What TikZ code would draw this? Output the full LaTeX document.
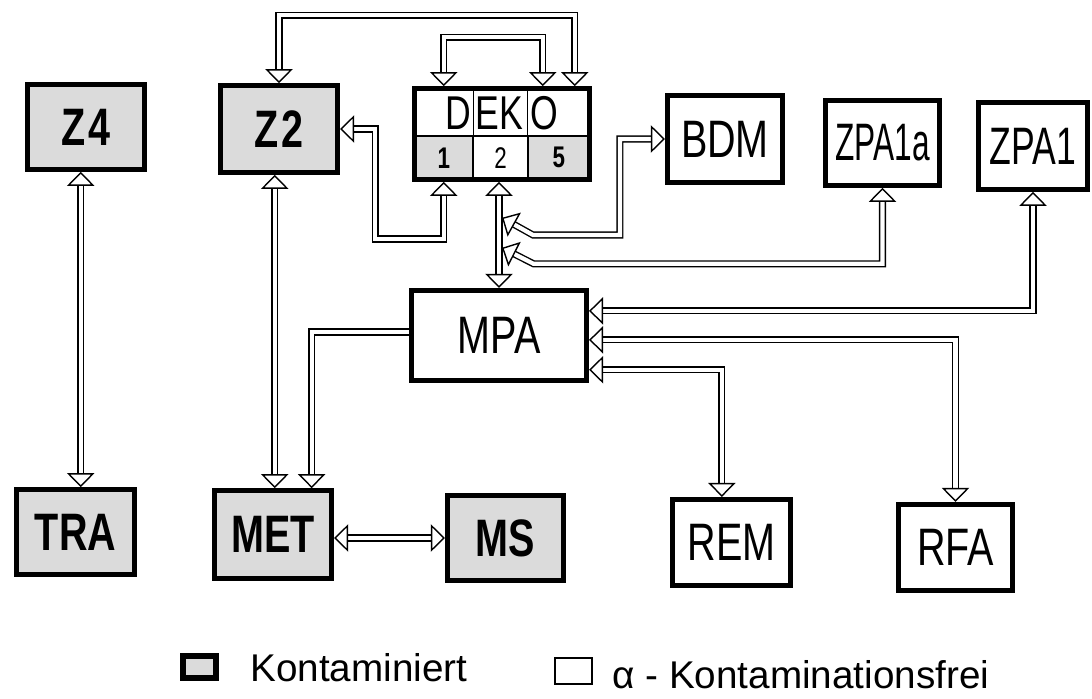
\documentclass[tikz,border=0pt]{standalone}
\usepackage{fontspec}
\setmainfont{Liberation Sans}
\newfontfamily\boxfont{Liberation Sans}[FakeStretch=0.75]
\usetikzlibrary{arrows.meta,calc}
\definecolor{shade}{gray}{0.86}

\tikzset{
  box/.style={draw, line width=2.6pt, inner sep=0pt, font=\boxfont\fontsize{30}{30}\selectfont},
  hot/.style={box, fill=shade, font=\boxfont\bfseries\fontsize{30}{30}\selectfont},
  cell/.style={draw, line width=0.8pt, inner sep=0pt, minimum height=0.87cm, font=\boxfont\fontsize{17}{17}\selectfont},
  conn/.style={double, double distance=2.4pt, line width=0.8pt},
  legend/.style={anchor=base west, inner sep=0pt, font=\fontsize{22}{22}\selectfont},
  >={Triangle[open,length=8pt,width=15.5pt]}
}

\begin{document}
\begin{tikzpicture}[x=0.02cm, y=-0.02cm]
  \useasboundingbox (0,0) rectangle (1092,699);

  % kontaminiert
  \node[hot, minimum width=2.35cm, minimum height=1.70cm] (Z4) at (86,127) {Z\kern2pt 4};
  \node[hot, minimum width=2.35cm, minimum height=1.74cm] (Z2) at (279,129) {Z\kern2pt 2};
  \node[hot, minimum width=2.37cm, minimum height=1.70cm] (TRA) at (75.5,532) {TRA};
  \node[hot, minimum width=2.35cm, minimum height=1.76cm] (MET) at (273,534.5) {MET};
  \node[hot, minimum width=2.33cm, minimum height=1.70cm] (MS) at (505.5,538) {MS};

  % DEKO mit Zellen
  \node[cell, fill=shade, minimum width=1.17cm] (c1) at (443.75,157.75) {\bfseries 1};
  \node[cell, minimum width=1.10cm] (c2) at (500.5,157.75) {2};
  \node[cell, fill=shade, minimum width=1.23cm] (c5) at (558.75,157.75) {\bfseries 5};
  \node[box, minimum width=3.5cm, minimum height=1.82cm] (DEKO) at (502,134) {};
  \draw[line width=0.8pt] (c1.north east) -- (c1.north east |- DEKO.north);
  \draw[line width=0.8pt] (c5.north west) -- (c5.north west |- DEKO.north);
  \node[font=\boxfont\fontsize{27}{27}\selectfont] (dekotext) at (502,113) {D\kern2.5pt EK\kern4.5pt O};

  % alpha-frei
  \node[box, minimum width=2.31cm, minimum height=1.74cm] (BDM) at (725,139) {BDM};
  \node[box, minimum width=2.29cm, minimum height=1.70cm] (ZPA1a) at (882.5,143) {\scalebox{0.8}[1]{ZPA1a}};
  \node[box, minimum width=2.17cm, minimum height=1.74cm] (ZPA1) at (1033,146) {\scalebox{0.9}[1]{ZPA1}};
  \node[box, minimum width=3.51cm, minimum height=1.81cm] (MPA) at (499,335.5) {MPA};
  \node[box, minimum width=2.37cm, minimum height=1.73cm] (REM) at (731.5,542.5) {REM};
  \node[box, minimum width=2.29cm, minimum height=1.73cm] (RFA) at (955.5,547.5) {RFA};

  \coordinate (j1) at ($(MPA.north |- DEKO.south)+(3,36)$);
  \coordinate (j2) at ($(MPA.north |- DEKO.south)+(3,66)$);

  % Verbindungen
  \draw[conn,<->] ([xshift=-3pt]Z4.south) -- ([xshift=-3pt]Z4.south |- TRA.north);
  \draw[conn,<->] ([xshift=1pt]MET.north) -- ([xshift=1pt]MET.north |- Z2.south);
  \draw[conn,->] ([yshift=2pt]MPA.west) -| ([xshift=22pt]MET.north);
  \draw[conn,<->] (MET.east |- MS.west) -- (MS.west);
  \draw[conn,<->] (Z2.east) -| ++(35,110) -| (c1.south |- DEKO.south);
  \draw[conn,<->] (Z2.north) -- ++(0,-68) -| ($(DEKO.north east)+(-17,0)$);
  \draw[conn,<->] (c1.north |- DEKO.north) -- ++(0,-49) -| ($(DEKO.north east)+(-49,0)$);
  \draw[conn,<->] (MPA.north) -- (MPA.north |- DEKO.south);
  \draw[conn,<->] (BDM.west) -| ++(-45,96) -- ++(-87,0) -- (j1);
  \draw[conn,<->] (ZPA1a.south) |- ++(-349,76) -- (j2);
  \draw[conn,<->] ([yshift=14pt]MPA.east) -| (ZPA1.south);
  \draw[conn,<->] ([yshift=-2.5pt]MPA.east) -| (RFA.north);
  \draw[conn,<->] ([yshift=-19.5pt]MPA.east) -| ([xshift=-5.5pt]REM.north);

  % Legende
  \node[draw, line width=3pt, fill=shade, minimum width=0.66cm, minimum height=0.44cm, inner sep=0pt] (legK) at (199.5,667) {};
  \node[legend] (legKtext) at (250,681) {Kontaminiert};
  \node[draw, line width=1.2pt, minimum width=0.74cm, minimum height=0.52cm, inner sep=0pt] (legF) at (573.5,671) {};
  \node[legend] (legFtext) at (612,688) {α - Kontaminationsfrei};
\end{tikzpicture}
\end{document}
